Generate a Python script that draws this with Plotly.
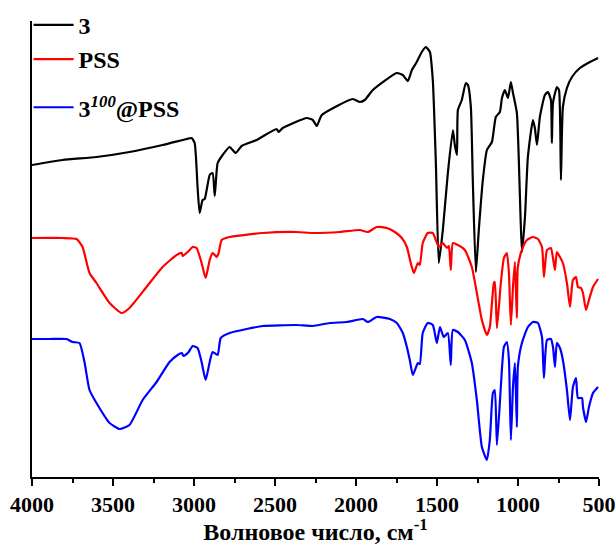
import plotly.graph_objects as go

# ---- data (intensities in arbitrary units) ----
wn_3 = [4000, 3812, 3602, 3398, 3194, 3045, 3015, 2996, 2978, 2965, 2947, 2934, 2903, 2885, 2872,
        2854, 2823, 2780, 2743, 2706, 2613, 2490, 2477, 2452, 2304, 2267, 2242, 2211, 2020, 1977,
        1946, 1896, 1748, 1711, 1680, 1655, 1625, 1594, 1569, 1544, 1526, 1507, 1489, 1464, 1433,
        1402, 1390, 1377, 1371, 1347, 1322, 1309, 1291, 1279, 1260, 1242, 1217, 1192, 1161, 1137,
        1112, 1099, 1081, 1062, 1044, 1031, 1007, 988, 976, 957, 939, 908, 896, 883, 865,
        834, 815, 797, 791, 784, 760, 747, 735, 723, 698, 667, 618, 556, 506]
t_3 = [312, 317, 320, 325, 332, 338, 339, 334, 290, 264, 277, 278, 302, 304, 281,
       314, 322, 330, 324, 331, 337, 348, 345, 349, 359, 357, 351, 362, 378, 375,
       377, 387, 404, 402, 396, 407, 415, 425, 430, 425, 397, 314, 214, 247, 304,
       347, 332, 322, 367, 377, 394, 392, 370, 297, 205, 247, 297, 327, 335, 360,
       365, 379, 387, 379, 395, 384, 364, 280, 225, 260, 320, 357, 349, 332, 360,
       382, 385, 377, 334, 374, 390, 387, 297, 370, 389, 400, 409, 415, 419]

wn_pss = [4000, 3812, 3725, 3688, 3645, 3602, 3521, 3447, 3398, 3293, 3194, 3107, 3076, 3070, 3039,
          3008, 2984, 2953, 2928, 2903, 2885, 2860, 2848, 2829, 2780, 2576, 2366, 2267, 2100, 1977,
          1927, 1872, 1810, 1760, 1717, 1686, 1662, 1643, 1618, 1606, 1588, 1557, 1526, 1489, 1464,
          1439, 1427, 1415, 1402, 1371, 1328, 1285, 1254, 1223, 1192, 1174, 1149, 1143, 1130, 1106,
          1087, 1069, 1056, 1044, 1031, 1019, 1007, 1001, 976, 945, 908, 877, 852, 840, 821,
          797, 784, 772, 760, 741, 723, 698, 679, 661, 642, 630, 611, 599, 580, 562,
          537, 506]
t_pss = [239, 239, 238, 230, 204, 194, 174, 164, 169, 190, 210, 222, 224, 221, 225,
         230, 229, 214, 199, 217, 224, 220, 224, 237, 240, 244, 245, 244, 245, 247,
         245, 250, 249, 245, 239, 230, 214, 204, 214, 212, 234, 244, 244, 230, 234,
         229, 231, 207, 234, 232, 227, 210, 184, 157, 142, 150, 194, 195, 149, 194,
         219, 224, 204, 152, 190, 215, 159, 210, 227, 237, 240, 238, 230, 200, 227,
         229, 219, 207, 225, 220, 214, 194, 170, 197, 200, 190, 189, 184, 167, 177,
         190, 198]

wn_mix = [4000, 3892, 3787, 3750, 3707, 3676, 3645, 3602, 3521, 3459, 3398, 3317, 3231, 3151, 3101,
          3076, 3064, 3033, 3008, 2978, 2953, 2928, 2903, 2885, 2854, 2835, 2780, 2675, 2576, 2366,
          2267, 2162, 2057, 1958, 1927, 1872, 1791, 1748, 1711, 1686, 1668, 1649, 1618, 1606, 1588,
          1557, 1526, 1501, 1482, 1458, 1433, 1415, 1402, 1371, 1328, 1285, 1254, 1223, 1192, 1174,
          1155, 1143, 1130, 1106, 1087, 1069, 1056, 1044, 1031, 1019, 1007, 1001, 976, 939, 908,
          877, 852, 840, 821, 797, 784, 772, 760, 741, 723, 698, 679, 661, 642, 630,
          605, 599, 580, 562, 537, 506]
t_mix = [138, 138, 138, 135, 134, 115, 87, 74, 54, 48, 52, 77, 95, 115, 122,
         124, 121, 125, 131, 129, 115, 97, 115, 125, 122, 139, 144, 148, 151, 152,
         151, 154, 155, 158, 155, 160, 158, 154, 144, 130, 117, 102, 114, 113, 144,
         154, 152, 134, 150, 140, 144, 112, 147, 145, 137, 114, 77, 30, 17, 37,
         84, 87, 32, 90, 130, 135, 117, 37, 90, 114, 50, 110, 134, 150, 155,
         154, 140, 99, 137, 138, 130, 110, 134, 129, 117, 87, 57, 90, 99, 79,
         79, 70, 55, 70, 84, 90]

series_names = ["3", "PSS", "3<sup><i>100</i></sup>@PSS"]
series_colors = ["#000000", "#ff0000", "#0000ff"]
x_ticks = [4000, 3500, 3000, 2500, 2000, 1500, 1000, 500]
x_title = "Волновое число, см<sup>-1</sup>"

FONT = "Liberation Serif"

fig = go.Figure()
for wn, t, name, col, grp in zip([wn_3, wn_pss, wn_mix], [t_3, t_pss, t_mix],
                                  series_names, series_colors, ["a", "a", "b"]):
    fig.add_trace(go.Scatter(
        x=wn, y=t, mode="lines", name=name, legendgroup=grp,
        line=dict(color=col, width=2.2, shape="spline", smoothing=0.5),
    ))

fig.update_layout(
    width=616, height=545,
    margin=dict(l=32, r=17, t=21, b=68, autoexpand=False),
    paper_bgcolor="white", plot_bgcolor="white",
    font=dict(family=FONT, color="black"),
    showlegend=True,
    legend=dict(
        x=-0.006, y=1.040, xanchor="left", yanchor="top",
        font=dict(family=FONT, size=24, color="black", weight="bold"),
        bgcolor="rgba(0,0,0,0)", borderwidth=0,
        tracegroupgap=14, itemwidth=40,
    ),
    xaxis=dict(
        range=[4000, 500], autorange=False,
        tickvals=x_ticks, ticktext=[str(v) for v in x_ticks],
        ticks="outside", ticklen=7, tickwidth=2, tickcolor="black",
        minor=dict(ticks="outside", ticklen=4, tickwidth=2, dtick=250, tickcolor="black"),
        showline=True, linewidth=2, linecolor="black",
        showgrid=False, zeroline=False,
        tickfont=dict(family=FONT, size=22, color="black", weight="bold"),
        title=dict(text=x_title, font=dict(family=FONT, size=24, color="black", weight="bold"),
                   standoff=10),
    ),
    yaxis=dict(
        range=[0, 456], autorange=False,
        showline=True, linewidth=2, linecolor="black",
        showticklabels=False, ticks="", showgrid=False, zeroline=False,
    ),
)

fig.write_html("out.html")
